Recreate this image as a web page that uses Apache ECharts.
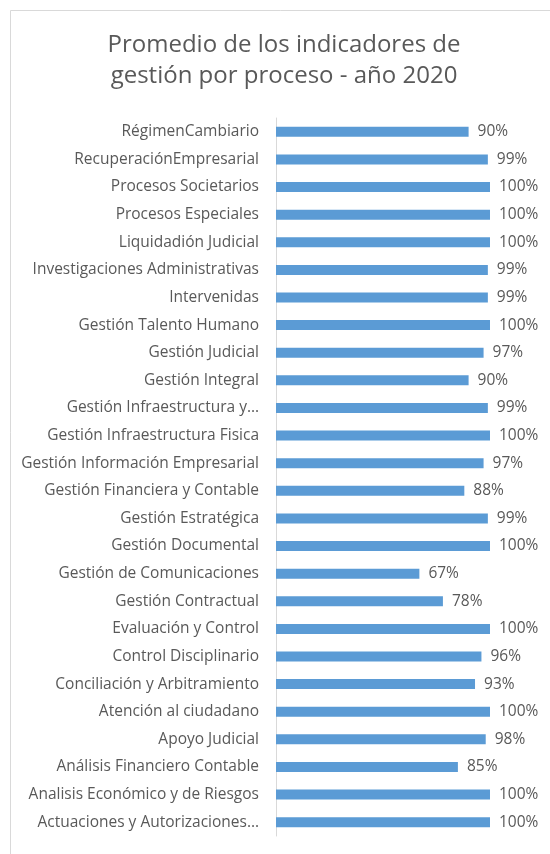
<!DOCTYPE html>
<html>
<head>
<meta charset="utf-8">
<script src="https://cdn.jsdelivr.net/npm/echarts@6/dist/echarts.min.js"></script>
<style>
  html, body { margin: 0; padding: 0; background: #ffffff; }
  #chart { width: 550px; height: 854px; }
</style>
</head>
<body>
<div id="chart"></div>
<script>
// Process names, top to bottom
const categories = [
  'RégimenCambiario',
  'RecuperaciónEmpresarial',
  'Procesos Societarios',
  'Procesos Especiales',
  'Liquidadión Judicial',
  'Investigaciones Administrativas',
  'Intervenidas',
  'Gestión Talento Humano',
  'Gestión Judicial',
  'Gestión Integral',
  'Gestión Infraestructura y…',
  'Gestión Infraestructura Fisica',
  'Gestión Información Empresarial',
  'Gestión Financiera y Contable',
  'Gestión Estratégica',
  'Gestión Documental',
  'Gestión de Comunicaciones',
  'Gestión Contractual',
  'Evaluación y Control',
  'Control Disciplinario',
  'Conciliación y Arbitramiento',
  'Atención al ciudadano',
  'Apoyo Judicial',
  'Análisis Financiero Contable',
  'Analisis Económico y de Riesgos',
  'Actuaciones y Autorizaciones…'
];

// Average indicator per process (%)
const values = [
  90, 99, 100, 100, 100, 99, 99, 100, 97, 90, 99, 100, 97,
  88, 99, 100, 67, 78, 100, 96, 93, 100, 98, 85, 100, 100
];

const titleLines = ['Promedio de los indicadores de', 'gestión por proceso - año 2020'];

const chart = echarts.init(document.getElementById('chart'), null, { renderer: 'canvas' });
const textColor = '#595959';
const fontFamily = '"Open Sans", sans-serif';

chart.setOption({
  animation: false,
  backgroundColor: '#ffffff',
  title: {
    text: titleLines.join('\n'),
    left: 279,
    textAlign: 'center',
    top: 25,
    textStyle: {
      fontFamily: fontFamily,
      fontSize: 24,
      fontWeight: 'normal',
      color: textColor,
      lineHeight: 31
    }
  },
  graphic: [{
    type: 'rect',
    shape: { x: 10.5, y: 10.5, width: 600, height: 900 },
    style: { fill: 'none', stroke: '#d9d9d9', lineWidth: 1 },
    silent: true,
    z: -1
  }],
  grid: {
    left: 276,
    right: 60,
    top: 118,
    bottom: 18,
    containLabel: false
  },
  xAxis: {
    type: 'value',
    min: 0,
    max: 100,
    show: false
  },
  yAxis: {
    type: 'category',
    data: categories,
    inverse: true,
    axisLine: { show: true, lineStyle: { color: '#d9d9d9', width: 1 } },
    axisTick: { show: false },
    axisLabel: {
      color: textColor,
      fontFamily: fontFamily,
      fontSize: 15.5,
      margin: 17,
      padding: [2, 0, 0, 0]
    }
  },
  series: [{
    type: 'bar',
    data: values,
    barWidth: 10,
    itemStyle: { color: '#5b9bd5' },
    label: {
      show: true,
      position: 'right',
      distance: 9,
      formatter: '{c}%',
      color: textColor,
      fontFamily: fontFamily,
      fontSize: 15.5,
      padding: [2, 0, 0, 0]
    }
  }]
});
</script>
</body>
</html>
